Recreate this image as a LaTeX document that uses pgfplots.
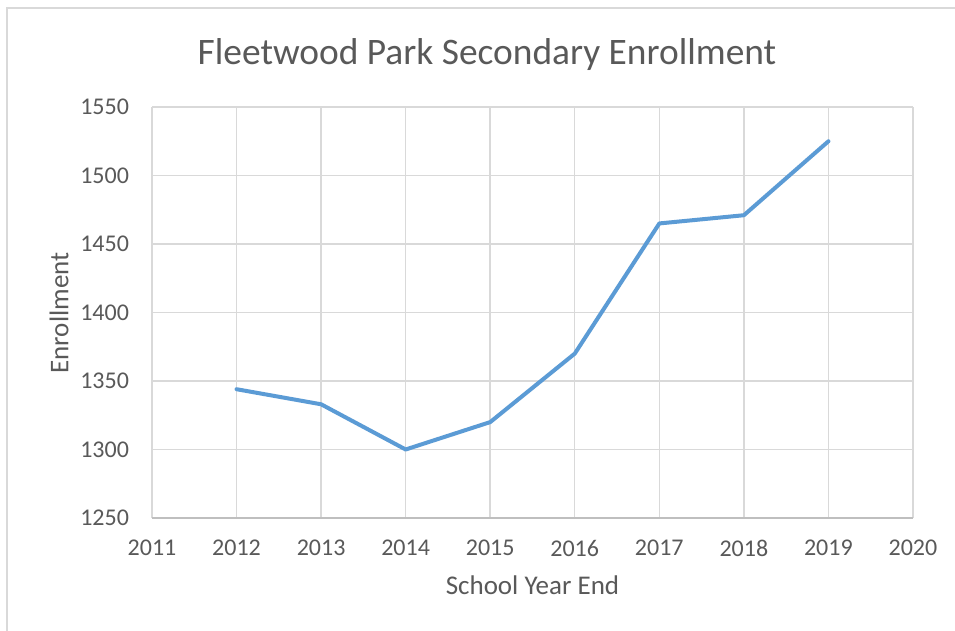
\documentclass[border=0pt]{standalone}
\usepackage{pgfplots}
\pgfplotsset{compat=1.18}
\usepackage{fontspec}
\setmainfont{Carlito}
\definecolor{txt}{HTML}{595959}
\definecolor{gridc}{HTML}{D9D9D9}
\definecolor{axc}{HTML}{BFBFBF}
\definecolor{line1}{HTML}{5B9BD5}
\definecolor{border}{HTML}{D9D9D9}
\begin{document}
\begin{tikzpicture}[x=1pt,y=1pt]
\useasboundingbox (0,0) rectangle (477.5,315.5);
\fill[white] (0,0) rectangle (477.5,315.5);
\draw[border, line width=0.8pt] (3.5,0) -- (3.5,311.5) -- (477.5,311.5);
\begin{axis}[
  at={(76pt,56.5pt)}, anchor=south west,
  scale only axis, width=380.5pt, height=205.5pt,
  xmin=2011, xmax=2020, ymin=1250, ymax=1550,
  xtick={2011,2012,...,2020}, ytick={1250,1300,...,1550},
  grid=major,
  major grid style={gridc, line width=0.75pt},
  axis line style={draw=none},
  tick style={draw=none},
  /pgf/number format/1000 sep={},
  /pgf/number format/assume math mode=true,
  ticklabel style={font=\fontsize{12}{14}\selectfont, text=txt},
  yticklabel style={xshift=-8pt},
  xticklabel style={yshift=-7.5pt},
  xlabel={School Year End},
  xlabel style={font=\fontsize{13.5}{16}\selectfont, text=txt, at={(axis description cs:0.5,0)}, anchor=base, yshift=-38.5pt},
  clip=false,
]
\addplot[line1, line width=2pt, line join=round, line cap=round] coordinates {
  (2012,1344) (2013,1333) (2014,1300) (2015,1320)
  (2016,1370) (2017,1465) (2018,1471) (2019,1525)
};
\draw[axc, line width=0.75pt] (axis cs:2011,1250) -- (axis cs:2020,1250);
\end{axis}
\node[rotate=90, anchor=center, text=txt, font=\fontsize{13.5}{16}\selectfont, inner sep=0pt] at (29.5,159) {Enrollment};
\node[anchor=base, text=txt, font=\fontsize{18.7}{22}\selectfont, inner sep=0pt] at (243.5,283) {Fleetwood Park Secondary Enrollment};
\end{tikzpicture}
\end{document}
